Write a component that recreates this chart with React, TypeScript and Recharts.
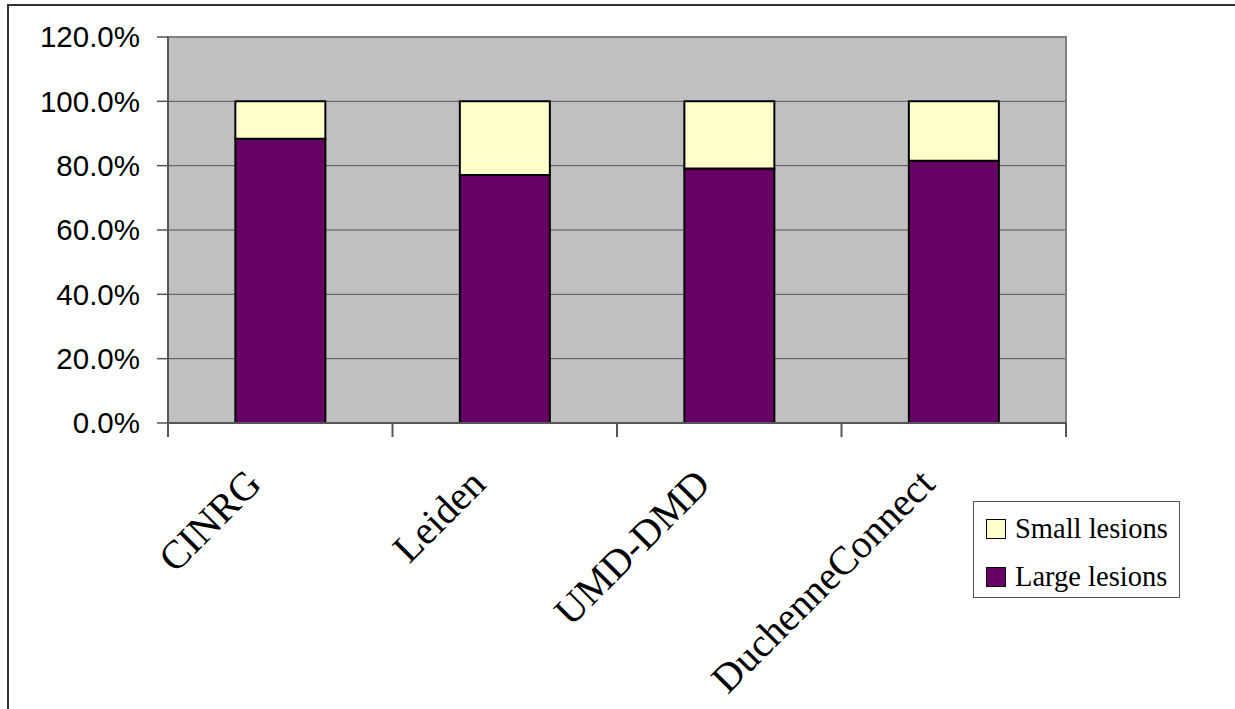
import { BarChart, Bar, XAxis, YAxis, CartesianGrid, ReferenceArea } from "recharts";

const categories: string[] = ["CINRG", "Leiden", "UMD-DMD", "DuchenneConnect"];
const largeLesions: number[] = [88.4, 77.1, 79.1, 81.5];
const smallLesions: number[] = [11.6, 22.9, 20.9, 18.5];
const yTicks: number[] = [0, 20, 40, 60, 80, 100, 120];

const data = categories.map((name, i) => ({
    name,
    large: largeLesions[i],
    small: smallLesions[i],
}));

const AXIS = "#555555";

function CategoryTick(props: any) {
    const { x, y, payload, index } = props;
    const half = payload && payload.offset ? payload.offset : 112.25;
    // tick marks sit on the category boundaries, not the centres
    return (
        <g>
            <line x1={x - half} x2={x - half} y1={y} y2={y + 14} stroke={AXIS} strokeWidth={2} />
            {index === categories.length - 1 && (
                <line x1={x + half} x2={x + half} y1={y} y2={y + 14} stroke={AXIS} strokeWidth={2} />
            )}
            <g transform={`translate(${x - 17},${y + 63})`}>
                <text
                    transform="rotate(-45)"
                    textAnchor="end"
                    fontFamily="'Liberation Serif', 'Times New Roman', serif"
                    fontSize={40}
                    fill="#000"
                >
                    {payload.value}
                </text>
            </g>
        </g>
    );
}

function LegendBox() {
    const items = [
        { label: "Small lesions", colour: "#FFFFCC" },
        { label: "Large lesions", colour: "#660066" },
    ];
    return (
        <div
            style={{
                position: "absolute",
                left: 973,
                top: 501,
                width: 207,
                height: 97,
                border: "1px solid #555",
                background: "#fff",
                boxSizing: "border-box",
                fontFamily: "'Liberation Serif', 'Times New Roman', serif",
                fontSize: 28.5,
                color: "#000",
            }}
        >
            {items.map((it, i) => (
                <div key={i} style={{ position: "absolute", left: 12, top: 12 + i * 48, display: "flex", alignItems: "center", lineHeight: "30px", whiteSpace: "nowrap" }}>
                    <span style={{ display: "inline-block", width: 20, height: 20, background: it.colour, border: "1.5px solid #000", marginRight: 9, boxSizing: "border-box" }} />
                    {it.label}
                </div>
            ))}
        </div>
    );
}

export default function App() {
    return (
        <div style={{ position: "absolute", left: 0, top: 0, width: 1235, height: 709, overflow: "hidden", background: "#fff" }}>
            <div
                style={{
                    position: "absolute",
                    left: 7,
                    top: 4,
                    width: 1300,
                    height: 800,
                    borderTop: "2px solid #333",
                    borderLeft: "2px solid #333",
                }}
            />
            <div style={{ position: "absolute", left: 0, top: 0 }}>
                <BarChart
                    width={1235}
                    height={709}
                    data={data}
                    margin={{ top: 37, right: 169, bottom: 186, left: 68 }}
                    barCategoryGap="30%"
                >
                    <CartesianGrid vertical={false} stroke={AXIS} strokeOpacity={1} fill="#C0C0C0" fillOpacity={1} />
                    <ReferenceArea y1={0} y2={120} fill="none" stroke="#808080" strokeWidth={2} ifOverflow="extendDomain" />
                    <XAxis
                        dataKey="name"
                        height={100}
                        axisLine={{ stroke: AXIS, strokeWidth: 2 }}
                        tickLine={false}
                        tickSize={0}
                        tickMargin={0}
                        interval={0}
                        tick={<CategoryTick />}
                    />
                    <YAxis
                        domain={[0, 120]}
                        ticks={yTicks}
                        width={100}
                        interval={0}
                        tickSize={11}
                        tickMargin={17}
                        tickFormatter={(v: number) => `${v.toFixed(1)}%`}
                        axisLine={{ stroke: AXIS, strokeWidth: 2 }}
                        tickLine={{ stroke: AXIS, strokeWidth: 1.5 }}
                        tick={{ fill: "#000", fontSize: 29.5, fontFamily: "'Liberation Sans', Arial, sans-serif" }}
                    />
                    <Bar dataKey="large" name="Large lesions" stackId="a" fill="#660066" stroke="#000" strokeWidth={2} isAnimationActive={false} />
                    <Bar dataKey="small" name="Small lesions" stackId="a" fill="#FFFFCC" stroke="#000" strokeWidth={2} isAnimationActive={false} />
                </BarChart>
            </div>
            <LegendBox />
        </div>
    );
}
